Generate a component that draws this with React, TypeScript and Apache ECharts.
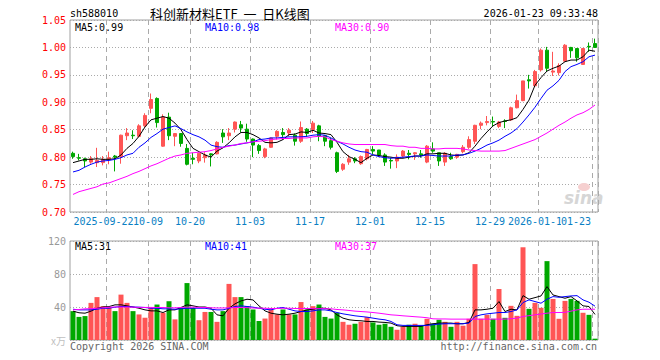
import React, { useEffect, useRef } from 'react';
import * as echarts from 'echarts';

const dates = ['2025-09-12','2025-09-15','2025-09-16','2025-09-17','2025-09-18','2025-09-19','2025-09-22','2025-09-23','2025-09-24','2025-09-25','2025-09-26','2025-09-29','2025-09-30','2025-10-09','2025-10-10','2025-10-13','2025-10-14','2025-10-15','2025-10-16','2025-10-17','2025-10-20','2025-10-21','2025-10-22','2025-10-23','2025-10-24','2025-10-27','2025-10-28','2025-10-29','2025-10-30','2025-10-31','2025-11-03','2025-11-04','2025-11-05','2025-11-06','2025-11-07','2025-11-10','2025-11-11','2025-11-12','2025-11-13','2025-11-14','2025-11-17','2025-11-18','2025-11-19','2025-11-20','2025-11-21','2025-11-24','2025-11-25','2025-11-26','2025-11-27','2025-11-28','2025-12-01','2025-12-02','2025-12-03','2025-12-04','2025-12-05','2025-12-08','2025-12-09','2025-12-10','2025-12-11','2025-12-12','2025-12-15','2025-12-16','2025-12-17','2025-12-18','2025-12-19','2025-12-22','2025-12-23','2025-12-24','2025-12-25','2025-12-26','2025-12-29','2025-12-30','2025-12-31','2026-01-05','2026-01-06','2026-01-07','2026-01-08','2026-01-09','2026-01-12','2026-01-13','2026-01-14','2026-01-15','2026-01-16','2026-01-19','2026-01-20','2026-01-21','2026-01-22','2026-01-23'];

const opens = [0.807,0.799,0.797,0.791,0.790,0.790,0.796,0.802,0.801,0.839,0.840,0.838,0.857,0.889,0.907,0.820,0.873,0.838,0.843,0.816,0.798,0.793,0.799,0.806,0.806,0.844,0.839,0.851,0.859,0.851,0.833,0.821,0.801,0.818,0.838,0.845,0.844,0.840,0.829,0.851,0.850,0.857,0.839,0.830,0.808,0.778,0.791,0.797,0.788,0.797,0.814,0.813,0.804,0.794,0.793,0.802,0.807,0.806,0.806,0.791,0.815,0.808,0.791,0.801,0.800,0.810,0.818,0.829,0.858,0.863,0.865,0.856,0.866,0.868,0.890,0.903,0.941,0.930,0.959,0.995,0.955,0.954,0.975,1.000,0.998,0.969,1.002,1.007];
const closes = [0.801,0.798,0.793,0.797,0.794,0.796,0.799,0.800,0.840,0.844,0.839,0.857,0.876,0.905,0.863,0.873,0.839,0.843,0.825,0.787,0.796,0.807,0.804,0.804,0.827,0.837,0.844,0.864,0.853,0.833,0.822,0.812,0.815,0.835,0.847,0.841,0.849,0.829,0.854,0.843,0.862,0.838,0.829,0.818,0.774,0.787,0.797,0.793,0.801,0.814,0.811,0.804,0.791,0.793,0.800,0.811,0.805,0.808,0.804,0.820,0.811,0.793,0.807,0.797,0.805,0.818,0.832,0.858,0.862,0.865,0.864,0.864,0.865,0.890,0.903,0.939,0.939,0.956,0.995,0.962,0.957,0.967,1.004,0.994,0.981,0.998,1.001,1.000];
const lows = [0.797,0.794,0.782,0.788,0.782,0.785,0.787,0.774,0.788,0.831,0.833,0.836,0.855,0.880,0.854,0.819,0.831,0.820,0.819,0.785,0.787,0.789,0.790,0.783,0.805,0.826,0.831,0.845,0.845,0.828,0.800,0.806,0.798,0.817,0.832,0.832,0.838,0.821,0.826,0.837,0.844,0.829,0.820,0.814,0.771,0.775,0.786,0.789,0.786,0.794,0.805,0.800,0.784,0.779,0.780,0.799,0.796,0.795,0.799,0.789,0.808,0.784,0.784,0.795,0.797,0.807,0.815,0.824,0.851,0.858,0.856,0.853,0.853,0.866,0.889,0.902,0.925,0.929,0.956,0.956,0.948,0.949,0.974,0.981,0.974,0.968,0.992,0.999];
const highs = [0.810,0.806,0.799,0.802,0.817,0.802,0.810,0.804,0.841,0.853,0.849,0.860,0.880,0.916,0.909,0.878,0.881,0.844,0.843,0.824,0.808,0.808,0.809,0.807,0.829,0.851,0.853,0.865,0.866,0.861,0.834,0.824,0.817,0.836,0.849,0.853,0.853,0.843,0.865,0.853,0.866,0.859,0.840,0.835,0.810,0.789,0.804,0.800,0.803,0.815,0.820,0.813,0.807,0.799,0.805,0.813,0.813,0.809,0.813,0.822,0.827,0.808,0.809,0.808,0.806,0.822,0.838,0.859,0.865,0.875,0.874,0.866,0.869,0.892,0.914,0.939,0.950,0.959,0.998,1.001,0.992,0.971,1.006,1.001,0.998,0.999,1.009,1.016];

const volumes = [35,28,29,45,52,41,40,35,55,45,35,31,27,39,43,33,47,25,39,69,39,24,34,34,22,35,68,52,52,41,37,23,26,37,31,37,31,31,46,37,41,43,28,26,33,22,18.5,19.7,22,27.7,21.3,18.5,19.7,16,12.4,16,18.5,19.7,17.3,25.7,19.7,24.5,22,16,22,17.3,25.7,92,25.7,30.5,25.7,61.8,26.9,41.4,29.3,112.4,37.8,45,39,95.6,49.8,25.7,47.4,49.8,47.4,33,30.5,1.6];

const ma5 = [0.790,0.793,0.796,0.796,0.797,0.796,0.796,0.797,0.804,0.816,0.825,0.838,0.855,0.868,0.871,0.874,0.871,0.862,0.850,0.832,0.816,0.810,0.804,0.800,0.811,0.817,0.826,0.837,0.845,0.845,0.841,0.835,0.827,0.826,0.827,0.832,0.841,0.842,0.846,0.845,0.849,0.844,0.843,0.841,0.827,0.810,0.801,0.796,0.790,0.798,0.804,0.803,0.801,0.800,0.798,0.798,0.800,0.802,0.802,0.806,0.806,0.807,0.807,0.804,0.803,0.804,0.808,0.820,0.834,0.846,0.857,0.863,0.866,0.868,0.872,0.887,0.904,0.931,0.945,0.957,0.962,0.966,0.974,0.977,0.977,0.983,0.995,0.993];
const ma10 = [0.773,0.776,0.782,0.787,0.791,0.793,0.794,0.796,0.799,0.804,0.807,0.818,0.826,0.836,0.843,0.851,0.854,0.857,0.852,0.846,0.841,0.837,0.831,0.822,0.819,0.818,0.821,0.822,0.824,0.826,0.828,0.832,0.833,0.835,0.835,0.836,0.837,0.837,0.837,0.838,0.840,0.841,0.840,0.835,0.829,0.824,0.818,0.813,0.810,0.809,0.804,0.801,0.799,0.798,0.799,0.800,0.801,0.802,0.802,0.804,0.803,0.802,0.802,0.802,0.804,0.804,0.807,0.811,0.816,0.822,0.826,0.831,0.838,0.844,0.852,0.864,0.877,0.891,0.907,0.922,0.930,0.940,0.956,0.965,0.969,0.974,0.983,0.986];
const ma30 = [0.732,0.737,0.740,0.743,0.746,0.751,0.753,0.757,0.761,0.765,0.770,0.774,0.779,0.784,0.788,0.793,0.798,0.802,0.804,0.807,0.808,0.809,0.810,0.812,0.815,0.818,0.820,0.822,0.825,0.826,0.828,0.829,0.830,0.832,0.833,0.834,0.834,0.835,0.835,0.835,0.837,0.838,0.837,0.832,0.829,0.826,0.824,0.823,0.823,0.823,0.823,0.823,0.823,0.821,0.820,0.820,0.818,0.818,0.816,0.816,0.815,0.815,0.816,0.816,0.816,0.815,0.813,0.812,0.811,0.811,0.811,0.811,0.812,0.816,0.820,0.824,0.828,0.832,0.838,0.844,0.851,0.858,0.864,0.871,0.877,0.881,0.887,0.895];

const volMa5 = [35,33,32.5,35,38.5,40,40.5,42.6,42.6,41.4,40,38.5,36.5,35.3,35.3,33.3,36.5,36.5,39.4,42.6,41.4,40,40,38.5,30.5,29.3,38.5,43.8,47.4,49.4,48.6,41.4,35.3,32.5,31.3,30.5,31.3,32.5,34.5,36.5,37.3,38.5,38.5,36.5,30.5,26.5,24.5,23.7,23.3,22.5,22.5,21.7,21.3,20.5,17.3,16.5,16.5,16.5,16.5,18.5,19.7,20.5,20.5,20.5,19.7,19.7,21.3,36.5,36.5,37.3,38.5,46.6,34.5,37.3,36.5,53.8,49.4,51.4,53.4,64.7,54.6,52.6,50.6,52.6,47.4,41.4,40.6,31];
const volMa10 = [37.3,36.5,36.5,36.5,37.3,38.5,38.5,39.8,40.6,40.6,40,39.8,39.4,38.5,38.5,37.8,37.8,37.3,37.8,38.5,38.5,38.5,38.5,37.3,36.5,36.5,38.5,40.6,41.4,40.6,39.8,38.5,37.3,36.5,38.5,39.4,37.3,35.3,34.5,34.5,35.3,36.5,36.5,35.3,33.3,31.7,30.5,29.3,28.5,27.7,26.5,25.3,24.5,22.5,18.5,17.7,17.7,17.7,17.7,17.7,18.5,19.3,19.7,19.7,19.7,19.7,20.5,28.5,30.5,31.7,32.5,33.3,33.3,34.5,36.5,45.4,48.6,46.6,44.6,49.4,52.6,51.8,52.6,53.4,53.8,48.6,45.8,41];
const volMa30 = [36.5,37,37.8,38,38.5,39,39.8,40,40,40,39.8,39.5,39.5,39.5,39.4,39.4,39,39,39.4,39.8,39.8,39.5,39.4,39,38.8,38.8,39,39.4,39.4,39.2,38.8,38.5,38.5,38.2,38.2,38.5,38.5,38.2,38.2,38.2,38,38,38,37.8,37,36.5,35.8,35,34.5,34,33.3,32.5,31.5,30.5,30,29.3,28.8,28.2,27.7,27,25.7,25.5,25.5,25.3,25.3,25.3,25.3,25.3,25.3,25.3,25.3,25.3,25.3,25.8,26.5,28.5,29.5,30.5,31.5,32.5,33.3,33.3,33.5,35,36.5,37.3,37.3,37.3];

const tickDates = ['2025-09-22','2025-10-09','2025-10-20','2025-11-03','2025-11-17','2025-12-01','2025-12-15','2025-12-29','2026-01-12','2026-01-23'];
const tickLabels = ['2025-09-22','10-09','10-20','11-03','11-17','12-01','12-15','12-29','2026-01-12','01-23'];

const priceLegend = ['MA5:0.99', 'MA10:0.98', 'MA30:0.90'];
const volLegend = ['MA5:31', 'MA10:41', 'MA30:37'];

const UP = '#ff5555';
const DOWN = '#00a800';
const MONO = '"DejaVu Sans Mono", "Liberation Mono", monospace';
const GRIDC = '#aaaaaa';
const XLABEL = '#0a7fc4';

export default function App() {
  const ref = useRef<HTMLDivElement>(null);
  useEffect(() => {
    document.body.style.margin = '0';
    const chart = echarts.init(ref.current!, null, { renderer: 'svg' });
    const candleData = dates.map((_, i) => [opens[i], closes[i], lows[i], highs[i]]);
    const volData = volumes.map((v, i) => ({
      value: v,
      itemStyle: { color: closes[i] >= opens[i] ? UP : DOWN },
    }));
    const tickIdx = tickDates.map((d) => dates.indexOf(d));
    const isTick = (i: number) => tickIdx.indexOf(i) >= 0;
    const lastIdx = dates.length - 1;

    const txt = (text: string, x: number, y: number, fill: string, font: string, align = 'left') => ({
      type: 'text',
      x,
      y,
      silent: true,
      style: {
        text,
        fill,
        font,
        align,
        verticalAlign: 'middle',
        textAlign: align,
        textVerticalAlign: 'middle',
      },
    });

    const lineSeries = (data: number[], color: string, axis: number) => ({
      type: 'line',
      data,
      xAxisIndex: axis,
      yAxisIndex: axis,
      symbol: 'none',
      showSymbol: false,
      silent: true,
      lineStyle: { color, width: 1 },
      z: 5,
    });

    const xSplit = {
      show: true,
      interval: (i: number) => isTick(i),
      lineStyle: { color: GRIDC, type: [5, 4], width: 1 },
    };

    // label axis: parity 0 -> even tick positions, parity 1 -> odd ones
    const labelAxis = (parity: number) => ({
      type: 'category',
      gridIndex: 0,
      position: 'bottom',
      offset: 0,
      data: dates,
      boundaryGap: true,
      axisLine: { show: false },
      axisTick: { show: false },
      splitLine: parity === 0 ? xSplit : { show: false },
      axisLabel: {
        show: true,
        hideOverlap: false,
        interval: (i: number) => {
          const k = tickIdx.indexOf(i);
          return k >= 0 && k % 2 === parity;
        },
        margin: 4,
        formatter: (_v: string, i: number) => {
          const k = tickIdx.indexOf(i);
          if (k < 0) return '';
          if (i === lastIdx) return '{e|' + tickLabels[k] + '}{g| }';
          if (k === 0) return '{n|' + tickLabels[k] + '}{f| }';
          return '{n|' + tickLabels[k] + '}{s| }';
        },
        rich: {
          n: { color: XLABEL, fontFamily: MONO, fontSize: 10 },
          e: { color: XLABEL, fontFamily: MONO, fontSize: 10, backgroundColor: '#ffffff' },
          s: { width: 6, fontSize: 10 },
          f: { width: 11, fontSize: 10 },
          g: { width: 38, fontSize: 10 },
        },
      },
    });

    chart.setOption({
      animation: false,
      backgroundColor: '#ffffff',
      grid: [
        { left: 70, top: 20, width: 528, height: 192, show: true, borderColor: '#a0a0a0', borderWidth: 1 },
        { left: 70, top: 241, width: 528, height: 99, show: true, borderColor: '#a0a0a0', borderWidth: 1 },
      ],
      xAxis: [
        labelAxis(0),
        {
          type: 'category',
          gridIndex: 1,
          position: 'bottom',
          data: dates,
          boundaryGap: true,
          axisLine: { show: false },
          axisTick: { show: false },
          axisLabel: { show: false },
          splitLine: xSplit,
        },
        labelAxis(1),
      ],
      yAxis: [
        {
          type: 'value',
          gridIndex: 0,
          min: 0.7,
          max: 1.05,
          interval: 0.05,
          axisLine: { show: false },
          axisTick: { show: false },
          axisLabel: {
            color: '#ff0000',
            fontFamily: MONO,
            fontSize: 10,
            margin: 4,
            formatter: (v: number) => v.toFixed(2),
          },
          splitLine: { show: true, lineStyle: { color: GRIDC, type: [1, 2], width: 1 } },
        },
        {
          type: 'value',
          gridIndex: 1,
          min: 0,
          max: 120,
          interval: 40,
          axisLine: { show: false },
          axisTick: { show: false },
          axisLabel: {
            color: '#999999',
            fontFamily: MONO,
            fontSize: 10,
            margin: 4,
            formatter: (v: number) => (v === 0 ? '{u|x万}' : String(v)),
            rich: { u: { color: '#c0c0c0', fontSize: 10, fontFamily: '"Noto Sans CJK SC", sans-serif' } },
          },
          splitLine: { show: true, lineStyle: { color: GRIDC, type: [1, 2], width: 1 } },
        },
      ],
      series: [
        {
          type: 'candlestick',
          xAxisIndex: 0,
          yAxisIndex: 0,
          data: candleData,
          barWidth: 4,
          silent: true,
          itemStyle: { color: UP, color0: DOWN, borderColor: UP, borderColor0: DOWN, borderWidth: 1 },
          z: 3,
        },
        lineSeries(ma5, '#000000', 0),
        lineSeries(ma10, '#0000ff', 0),
        lineSeries(ma30, '#ff00ff', 0),
        {
          type: 'bar',
          xAxisIndex: 1,
          yAxisIndex: 1,
          data: volData,
          barWidth: 5,
          silent: true,
          z: 3,
        },
        lineSeries(volMa5, '#000000', 1),
        lineSeries(volMa10, '#0000ff', 1),
        lineSeries(volMa30, '#ff00ff', 1),
      ],
      graphic: [
        txt('sh588010', 70, 13, '#000000', `10px ${MONO}`),
        txt('科创新材料ETF  一  日K线图', 150, 13, '#000000', '13px "Noto Sans CJK SC", sans-serif'),
        txt('2026-01-23 09:33:48', 598, 13, '#000000', `10px ${MONO}`, 'right'),
        txt(priceLegend[0], 75, 27, '#000000', `10px ${MONO}`),
        txt(priceLegend[1], 205, 27, '#0000ff', `10px ${MONO}`),
        txt(priceLegend[2], 335, 27, '#ff00ff', `10px ${MONO}`),
        txt(volLegend[0], 75, 246, '#000000', `10px ${MONO}`),
        txt(volLegend[1], 205, 246, '#0000ff', `10px ${MONO}`),
        txt(volLegend[2], 335, 246, '#ff00ff', `10px ${MONO}`),
        txt('Copyright 2026 SINA.COM', 70, 346, '#666666', `10px ${MONO}`),
        txt('http://finance.sina.com.cn', 597, 346, '#666666', `10px ${MONO}`, 'right'),
        {
          type: 'ellipse',
          silent: true,
          shape: { cx: 584, cy: 187, rx: 6, ry: 4 },
          style: { fill: '#f6d0d0' },
          z: 1,
        },
        txt('sina', 564, 198, '#d6d6d6', 'italic bold 17px "DejaVu Sans", sans-serif'),
      ],
    });
    return () => chart.dispose();
  }, []);
  return <div ref={ref} style={{ width: 660, height: 360 }} />;
}
